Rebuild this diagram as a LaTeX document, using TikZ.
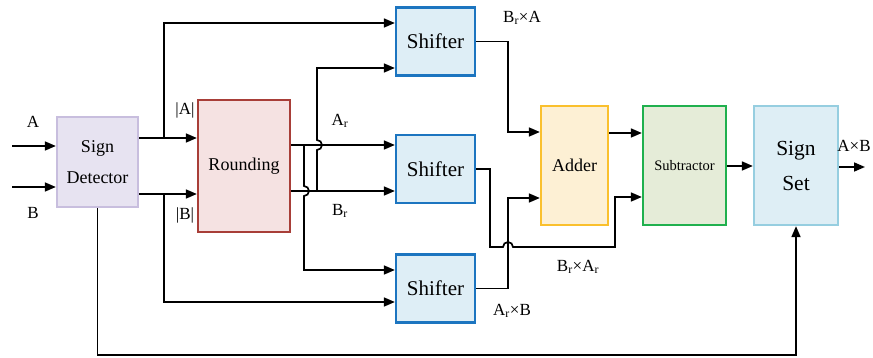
\documentclass[tikz,border=0pt]{standalone}
\usepackage{fontspec}
\setmainfont{Liberation Serif}
\usetikzlibrary{arrows.meta}
\definecolor{sdfill}{RGB}{231,227,241}
\definecolor{sdline}{RGB}{200,190,222}
\definecolor{rndfill}{RGB}{245,226,226}
\definecolor{rndline}{RGB}{168,62,56}
\definecolor{shfill}{RGB}{222,238,246}
\definecolor{shline}{RGB}{28,117,192}
\definecolor{addfill}{RGB}{253,240,212}
\definecolor{addline}{RGB}{250,192,45}
\definecolor{subfill}{RGB}{229,236,216}
\definecolor{subline}{RGB}{32,176,78}
\definecolor{ssfill}{RGB}{222,238,245}
\definecolor{ssline}{RGB}{150,206,224}

\begin{document}
\begin{tikzpicture}[x=1pt, y=-1pt,
    bloque/.style={draw, line width=2.3pt, align=center, inner sep=1pt},
    flecha/.style={-{Triangle[length=11pt, width=9pt]}, line width=1.7pt},
    etiq/.style={font=\fontsize{17}{19}\selectfont, inner sep=0pt}]

    % Fijar el marco de la figura (pixeles del original)
    \useasboundingbox (0,0) rectangle (873,358);

    % --- Bloques principales ---
    \node[bloque, fill=sdfill, draw=sdline, minimum width=81pt, minimum height=90pt,
        font=\fontsize{18}{31}\selectfont] (sd) at (97.5,162) {Sign\\Detector};
    \node[bloque, fill=rndfill, draw=rndline, minimum width=92pt, minimum height=132pt,
        font=\fontsize{18}{21}\selectfont] (rnd) at (244,166) {Rounding};

    % Los tres desplazadores (indice, y)
    \foreach \i/\py in {1/41.5, 2/169, 3/288.5}{
        \node[bloque, fill=shfill, draw=shline, minimum width=79pt, minimum height=68pt,
            font=\fontsize{21}{23}\selectfont] (sh\i) at (435.5,\py) {Shifter};
    }

    \node[bloque, fill=addfill, draw=addline, minimum width=67pt, minimum height=119pt,
        font=\fontsize{18}{21}\selectfont] (add) at (574.5,165.5) {Adder};
    \node[bloque, fill=subfill, draw=subline, minimum width=83pt, minimum height=119pt,
        font=\fontsize{14.5}{17}\selectfont] (sub) at (684.5,165.5) {Subtractor};
    \node[bloque, fill=ssfill, draw=ssline, minimum width=84pt, minimum height=119pt,
        font=\fontsize{21.5}{35}\selectfont] (ss) at (796,165.5) {Sign\\Set};

    % --- Entradas A y B ---
    \coordinate (inA) at (12,146);
    \coordinate (inB) at (12,187);
    \draw[flecha] (inA) -- (sd.west |- inA);
    \draw[flecha] (inB) -- (sd.west |- inB);
    \node[etiq] (lA) at (33,122) {A};
    \node[etiq] (lB) at (33,213) {B};

    % --- Magnitudes |A| y |B| ---
    \coordinate (jA) at (164,138);
    \coordinate (jB) at (164,194);
    \draw[flecha] (sd.east |- jA) -- (rnd.west |- jA);
    \draw[flecha] (sd.east |- jB) -- (rnd.west |- jB);
    \draw[flecha] (jA) |- (sh1.west |- 0,23);
    \draw[flecha] (jB) |- (sh3.west |- 0,302);
    \node[etiq] (lmA) at (185,110) {|A|};
    \node[etiq] (lmB) at (185,215) {|B|};

    % --- Salidas redondeadas Ar y Br ---
    \coordinate (jAr) at (304,145);
    \coordinate (jBr) at (317,191);
    \draw[flecha] (rnd.east |- jAr) -- (sh2.west |- jAr);
    \draw[flecha] (rnd.east |- jBr) -- (sh2.west |- jBr);
    % Br sube hasta sh1 saltando la linea de Ar
    \draw[flecha] (jBr) -- ++(0,-41) arc[start angle=-90, end angle=90, radius=5pt]
        |- (sh1.west |- 0,68);
    % Ar baja hasta sh3 saltando la linea de Br
    \draw[flecha] (jAr) -- ++(0,41) arc[start angle=90, end angle=-90, radius=5pt]
        |- (sh3.west |- 0,270);
    \node[etiq] (lAr) at (340,121) {A\textsubscript{r}};
    \node[etiq] (lBr) at (340,211) {B\textsubscript{r}};

    % --- Salidas de los desplazadores ---
    \coordinate (c1) at (508,132);
    \coordinate (c3) at (508,198);
    \coordinate (c2) at (490,247);
    \coordinate (c4) at (615,197);
    \draw[flecha] (sh1.east) -| (c1) -- (add.west |- c1);
    \draw[flecha] (sh3.east) -| (c3) -- (add.west |- c3);
    % sh2 va al restador saltando la linea vertical de sh3
    \draw[flecha] (sh2.east) -| (c2) -- ++(13,0) arc[start angle=180, end angle=0, radius=5pt]
        -| (c4) -- (sub.west |- c4);
    \node[etiq] (lp1) at (522,18) {B\textsubscript{r}×A};
    \node[etiq] (lp2) at (578,267) {B\textsubscript{r}×A\textsubscript{r}};
    \node[etiq] (lp3) at (512,311) {A\textsubscript{r}×B};

    % --- Cadena final ---
    \draw[flecha] (add.east |- 0,133) -- (sub.west |- 0,133);
    \draw[flecha] (sub.east |- 0,166) -- (ss.west |- 0,166);
    \coordinate (out) at (865,167);
    \draw[flecha] (ss.east |- out) -- (out);
    \node[etiq] (lout) at (854,146) {A×B};

    % Realimentacion del signo
    \draw[flecha] (sd.south) -- (sd.south |- 0,355) -| (ss.south);

\end{tikzpicture}
\end{document}
